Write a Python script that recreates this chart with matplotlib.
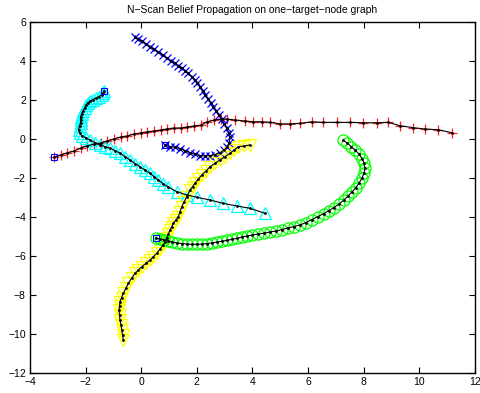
import matplotlib
matplotlib.use("Agg")
import matplotlib.pyplot as plt

plt.rcParams['font.family'] = ['Liberation Sans', 'DejaVu Sans']

red_x = [-3.14, -2.89, -2.67, -2.42, -2.17, -1.95, -1.70, -1.45, -1.23, -0.98, -0.73, -0.51, -0.26, -0.01,
         0.21, 0.46, 0.71, 0.93, 1.18, 1.43, 1.65, 1.90, 2.15, 2.36, 2.62, 2.87, 3.08,
         3.37, 3.73, 4.03, 4.33, 4.63, 4.99, 5.35, 5.71, 6.13, 6.55, 7.03, 7.51, 7.98, 8.47, 8.88,
         9.30, 9.76, 10.20, 10.68, 11.16]
red_y = [-0.95, -0.84, -0.74, -0.64, -0.48, -0.38, -0.28, -0.23, -0.13, -0.02, 0.08, 0.13, 0.23, 0.29,
         0.34, 0.39, 0.44, 0.49, 0.54, 0.54, 0.59, 0.64, 0.69, 0.85, 0.95, 1.00, 1.00,
         0.95, 0.90, 0.86, 0.86, 0.83, 0.75, 0.75, 0.78, 0.86, 0.83, 0.83, 0.83, 0.81, 0.81, 0.83,
         0.66, 0.56, 0.49, 0.45, 0.30]

blue_x = [0.854, 1.034, 1.214, 1.394, 1.574, 1.753, 1.933, 2.113, 2.293, 2.473, 2.652, 2.832, 2.976,
          3.095, 3.167, 3.192, 3.144, 3.072, 2.988, 2.892, 2.785, 2.688, 2.592, 2.496, 2.401, 2.304,
          2.210, 2.113, 2.016, 1.922, 1.814, 1.692, 1.574, 1.455, 1.333, 1.214, 1.059, 0.915, 0.771,
          0.614, 0.459, 0.315, 0.171, 0.016, -0.106, -0.224]
blue_y = [-0.330, -0.417, -0.450, -0.519, -0.622, -0.724, -0.809, -0.878, -0.894, -0.878, -0.826,
          -0.724, -0.586, -0.417, -0.211, 0.064, 0.301, 0.525, 0.746, 0.985, 1.208, 1.427, 1.632,
          1.838, 2.043, 2.248, 2.453, 2.658, 2.832, 3.001, 3.171, 3.345, 3.478, 3.601, 3.719, 3.857,
          3.991, 4.114, 4.283, 4.437, 4.575, 4.708, 4.847, 4.985, 5.088, 5.190]

cyan_x = [-1.339, -1.375, -1.429, -1.519, -1.627, -1.735, -1.843, -1.914, -1.986, -2.040, -2.094,
          -2.148, -2.184, -2.184, -2.184, -2.220, -2.256, -2.220, -2.130, -1.986, -1.843, -1.663,
          -1.483, -1.303, -1.123, -0.944, -0.764, -0.584, -0.404, -0.224, -0.045, 0.135, 0.315,
          0.459, 0.613, 0.782, 0.962, 1.286, 1.645, 2.005, 2.472, 2.940, 3.443, 3.911, 4.450]
cyan_y = [2.453, 2.335, 2.233, 2.156, 2.079, 2.002, 1.925, 1.848, 1.720, 1.566, 1.413, 1.259, 1.105,
          0.951, 0.798, 0.644, 0.464, 0.285, 0.157, 0.029, -0.074, -0.202, -0.330, -0.407, -0.499,
          -0.612, -0.755, -0.920, -1.099, -1.278, -1.442, -1.611, -1.781, -1.945, -2.124, -2.303,
          -2.483, -2.724, -2.893, -3.011, -3.149, -3.318, -3.457, -3.575, -3.831]

yellow_x = [-0.645, -0.674, -0.703, -0.728, -0.764, -0.782, -0.800, -0.782, -0.764, -0.710, -0.645,
            -0.555, -0.465, -0.350, -0.224, -0.106, 0.017, 0.171, 0.315, 0.434, 0.556, 0.675, 0.793,
            0.854, 0.916, 0.973, 1.034, 1.095, 1.153, 1.243, 1.333, 1.394, 1.455, 1.545, 1.635,
            1.753, 1.843, 1.933, 2.052, 2.174, 2.329, 2.472, 2.652, 2.832, 3.012, 3.192, 3.335,
            3.490, 3.695, 3.911]
yellow_y = [-10.325, -10.069, -9.812, -9.556, -9.300, -9.044, -8.787, -8.582, -8.362, -8.147, -7.931,
            -7.675, -7.419, -7.163, -6.906, -6.737, -6.568, -6.394, -6.224, -6.055, -5.881, -5.661,
            -5.456, -5.276, -5.112, -4.892, -4.687, -4.518, -4.343, -4.174, -4.005, -3.749, -3.493,
            -3.236, -2.980, -2.637, -2.467, -2.293, -2.073, -1.868, -1.663, -1.442, -1.268, -1.099,
            -0.930, -0.756, -0.586, -0.417, -0.381, -0.330]

green_x = [0.531, 0.675, 0.818, 0.962, 1.106, 1.286, 1.466, 1.645, 1.825, 2.005, 2.185, 2.365, 2.544,
           2.724, 2.904, 3.084, 3.264, 3.443, 3.623, 3.803, 3.983, 4.199, 4.414, 4.630, 4.846, 5.062,
           5.277, 5.493, 5.709, 5.924, 6.140, 6.356, 6.572, 6.752, 6.931, 7.111, 7.291, 7.435, 7.578,
           7.722, 7.830, 7.938, 8.010, 8.046, 8.010, 7.938, 7.830, 7.686, 7.543, 7.399, 7.266]
green_y = [-5.112, -5.148, -5.199, -5.251, -5.302, -5.353, -5.379, -5.404, -5.420, -5.420, -5.404,
           -5.379, -5.353, -5.302, -5.266, -5.215, -5.164, -5.112, -5.046, -4.994, -4.943, -4.892,
           -4.856, -4.789, -4.738, -4.661, -4.584, -4.507, -4.431, -4.302, -4.149, -3.995, -3.841,
           -3.687, -3.534, -3.354, -3.149, -2.944, -2.739, -2.508, -2.278, -2.022, -1.765, -1.524,
           -1.253, -1.022, -0.791, -0.586, -0.407, -0.228, -0.074]

title = "N\u2212Scan Belief Propagation on one\u2212target\u2212node graph"
xticks = [-4, -2, 0, 2, 4, 6, 8, 10, 12]
yticks = [-12, -10, -8, -6, -4, -2, 0, 2, 4, 6]

fig = plt.figure(figsize=(4.81, 3.93), dpi=100)
ax = fig.add_axes([30/481, 1 - 372.7/393, 445/481, (372.7 - 21.5)/393])

tracks = [
    (red_x, red_y, '#ff2020', '+', 7.5, True),
    (blue_x, blue_y, '#0000ff', 'x', 5.5, True),
    (cyan_x, cyan_y, '#00ffff', '^', 9, True),
    (yellow_x, yellow_y, '#ffff00', 'v', 9, False),
    (green_x, green_y, '#00ff00', 'o', 8, True),
]
for xs, ys, c, m, ms, _ in tracks:
    ax.plot(xs, ys, linestyle='none', marker=m, color=c, markersize=ms,
            markerfacecolor='none', markeredgewidth=0.9)
for xs, ys, c, m, ms, _ in tracks:
    ax.plot(xs, ys, '-', color='k', linewidth=0.8, marker='.', markersize=2)
for xs, ys, c, m, ms, sq in tracks:
    if sq:
        ax.plot(xs[0], ys[0], linestyle='none', marker='s', color='#0000ff',
                markersize=4.5, markerfacecolor='none', markeredgewidth=0.8)

ax.set_xlim(-4, 12)
ax.set_ylim(-12, 6)
ax.set_xticks(xticks)
ax.set_yticks(yticks)
ax.set_xticklabels([str(t).replace('-', '\u2212') for t in xticks])
ax.set_yticklabels([str(t).replace('-', '\u2212') for t in yticks])
ax.tick_params(direction='in', length=4, width=0.8, labelsize=7.5, top=True, right=True, pad=3)
for s in ax.spines.values():
    s.set_linewidth(1.0)
ax.set_title(title, fontsize=7.5, pad=6)

fig.savefig('out.png', dpi=100)
